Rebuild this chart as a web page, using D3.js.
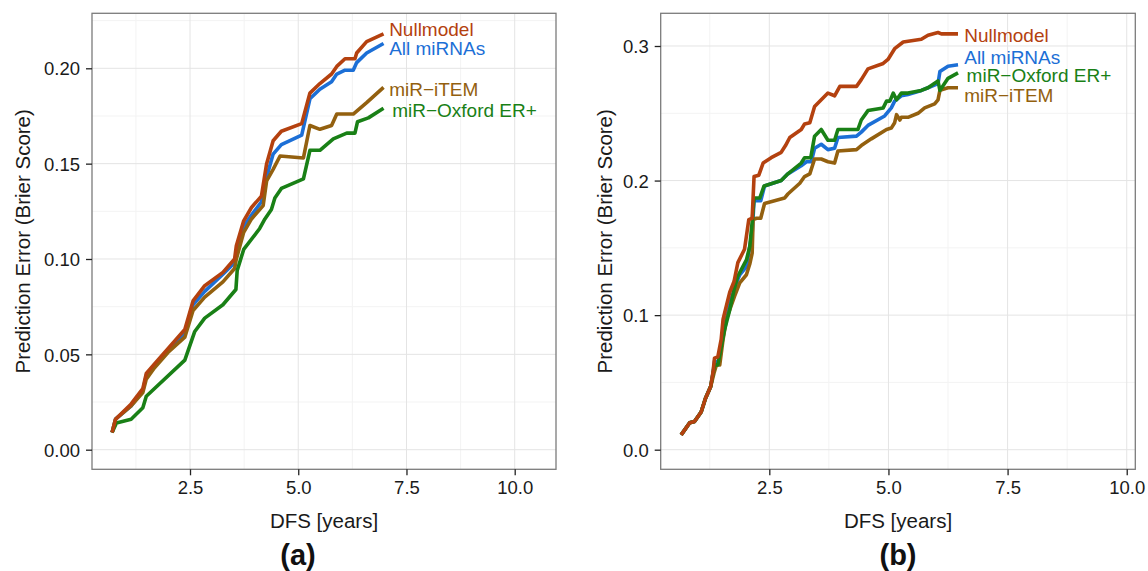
<!DOCTYPE html>
<html>
<head>
<meta charset="utf-8">
<script src="https://cdn.jsdelivr.net/npm/d3@7"></script>
<style>
  body { margin: 0; background: #fff; }
  text { font-family: "Liberation Sans", Arial, Helvetica, sans-serif; }
</style>
</head>
<body>
<script>
// Series, in drawing order
const seriesNames = ["All miRNAs", "miR\u2212iTEM", "miR\u2212Oxford ER+", "Nullmodel"];
const seriesColors = ["#1c6fd6", "#93600f", "#198016", "#b4410f"];

// Panel (a): [DFS years, prediction error]
const aAll = [[0.70,0.009],[0.78,0.016],[1.14,0.023],[1.41,0.031],[1.49,0.039],[1.68,0.044],[1.99,0.052],[2.38,0.061],[2.57,0.076],[2.84,0.083],[3.26,0.092],[3.53,0.098],[3.57,0.103],[3.74,0.117],[3.92,0.123],[4.15,0.130],[4.27,0.143],[4.42,0.155],[4.61,0.160],[5.08,0.165],[5.27,0.184],[5.50,0.189],[5.77,0.193],[5.89,0.197],[6.08,0.199],[6.27,0.199],[6.35,0.203],[6.58,0.208],[6.97,0.213]];
const aItem = [[0.70,0.009],[0.78,0.016],[1.14,0.023],[1.41,0.030],[1.49,0.037],[1.68,0.043],[1.99,0.051],[2.38,0.059],[2.57,0.073],[2.84,0.080],[3.26,0.088],[3.53,0.095],[3.57,0.100],[3.74,0.114],[3.92,0.121],[4.19,0.128],[4.27,0.141],[4.42,0.147],[4.58,0.154],[5.12,0.153],[5.27,0.170],[5.50,0.168],[5.77,0.170],[5.89,0.176],[6.27,0.176],[6.58,0.182],[6.97,0.190]];
const aOxford = [[0.70,0.009],[0.80,0.014],[1.14,0.016],[1.41,0.022],[1.49,0.028],[2.38,0.047],[2.61,0.062],[2.84,0.069],[3.26,0.076],[3.56,0.084],[3.59,0.094],[3.74,0.105],[4.11,0.116],[4.23,0.121],[4.38,0.126],[4.46,0.132],[4.61,0.137],[5.12,0.142],[5.27,0.157],[5.50,0.157],[5.81,0.163],[6.12,0.166],[6.31,0.166],[6.37,0.172],[6.62,0.174],[6.97,0.179]];
const aNull = [[0.70,0.009],[0.78,0.016],[1.14,0.024],[1.41,0.032],[1.49,0.040],[1.68,0.045],[1.99,0.053],[2.38,0.063],[2.57,0.078],[2.84,0.086],[3.26,0.093],[3.53,0.100],[3.57,0.107],[3.74,0.120],[3.92,0.127],[4.15,0.133],[4.27,0.150],[4.42,0.162],[4.61,0.167],[5.08,0.171],[5.27,0.187],[5.50,0.192],[5.77,0.197],[5.89,0.201],[6.08,0.205],[6.31,0.205],[6.35,0.208],[6.58,0.214],[6.97,0.218]];

// Panel (b)
const bAll = [[0.65,0.011],[0.83,0.020],[0.93,0.021],[1.07,0.028],[1.16,0.038],[1.27,0.047],[1.32,0.057],[1.35,0.066],[1.42,0.064],[1.49,0.078],[1.56,0.092],[1.63,0.102],[1.70,0.112],[1.81,0.124],[1.88,0.130],[2.02,0.136],[2.09,0.151],[2.14,0.161],[2.18,0.185],[2.32,0.185],[2.40,0.196],[2.75,0.200],[2.89,0.205],[3.17,0.211],[3.28,0.214],[3.38,0.214],[3.45,0.224],[3.59,0.227],[3.73,0.223],[3.87,0.224],[3.94,0.232],[4.33,0.233],[4.43,0.236],[4.57,0.241],[4.92,0.248],[5.06,0.254],[5.13,0.259],[5.27,0.263],[5.41,0.264],[5.69,0.267],[5.83,0.269],[6.04,0.272],[6.08,0.281],[6.25,0.285],[6.46,0.286]];
const bItem = [[0.65,0.011],[0.83,0.020],[0.93,0.021],[1.07,0.028],[1.16,0.038],[1.27,0.047],[1.34,0.057],[1.39,0.063],[1.46,0.063],[1.53,0.082],[1.60,0.097],[1.67,0.104],[1.77,0.114],[1.88,0.124],[2.02,0.130],[2.09,0.138],[2.14,0.146],[2.16,0.171],[2.23,0.172],[2.32,0.172],[2.40,0.183],[2.82,0.187],[2.89,0.190],[3.14,0.198],[3.24,0.203],[3.35,0.205],[3.45,0.216],[3.59,0.216],[3.73,0.214],[3.87,0.213],[3.94,0.222],[4.33,0.223],[4.43,0.226],[4.64,0.231],[4.96,0.238],[5.06,0.239],[5.13,0.243],[5.17,0.249],[5.24,0.245],[5.27,0.247],[5.41,0.247],[5.62,0.250],[5.76,0.254],[5.97,0.257],[6.04,0.260],[6.08,0.267],[6.25,0.269],[6.46,0.269]];
const bOxford = [[0.65,0.011],[0.83,0.020],[0.93,0.021],[1.07,0.028],[1.16,0.038],[1.27,0.047],[1.32,0.057],[1.35,0.063],[1.42,0.063],[1.49,0.076],[1.56,0.089],[1.67,0.104],[1.76,0.119],[1.84,0.129],[2.02,0.141],[2.09,0.151],[2.14,0.169],[2.18,0.187],[2.30,0.187],[2.39,0.196],[2.75,0.200],[2.89,0.205],[3.17,0.213],[3.24,0.217],[3.37,0.217],[3.45,0.233],[3.59,0.238],[3.73,0.230],[3.87,0.230],[3.94,0.238],[4.36,0.238],[4.43,0.245],[4.57,0.252],[4.89,0.254],[4.96,0.259],[5.03,0.259],[5.10,0.265],[5.17,0.260],[5.27,0.265],[5.41,0.265],[5.69,0.267],[5.83,0.269],[6.04,0.274],[6.08,0.267],[6.25,0.276],[6.46,0.280]];
const bNull = [[0.65,0.011],[0.83,0.020],[0.93,0.021],[1.07,0.028],[1.16,0.038],[1.27,0.047],[1.32,0.058],[1.35,0.068],[1.42,0.069],[1.49,0.082],[1.53,0.097],[1.60,0.107],[1.67,0.117],[1.76,0.125],[1.84,0.139],[1.98,0.149],[2.07,0.171],[2.14,0.172],[2.18,0.203],[2.28,0.204],[2.37,0.213],[2.54,0.217],[2.75,0.221],[2.84,0.226],[2.93,0.232],[3.17,0.238],[3.24,0.242],[3.35,0.243],[3.45,0.255],[3.59,0.260],[3.73,0.265],[3.87,0.263],[3.98,0.270],[4.33,0.270],[4.43,0.275],[4.57,0.283],[4.89,0.287],[4.99,0.290],[5.13,0.298],[5.31,0.303],[5.69,0.305],[5.83,0.308],[6.04,0.310],[6.11,0.309],[6.46,0.309]];

// Direct labels (data units), same order as seriesNames
const aLabelX = [7.10, 7.10, 7.17, 7.10];
const aLabelY = [0.2107, 0.1892, 0.1781, 0.2206];
const bLabelX = [6.59, 6.59, 6.64, 6.59];
const bLabelY = [0.2920, 0.2637, 0.2780, 0.3080];

// Ticks
const xTicks = [2.5, 5.0, 7.5, 10.0];
const xMinor = [1.25, 3.75, 6.25, 8.75];
const aYTicks = [0.00, 0.05, 0.10, 0.15, 0.20];
const aYMinor = [0.025, 0.075, 0.125, 0.175, 0.225];
const bYTicks = [0.0, 0.1, 0.2, 0.3];
const bYMinor = [0.05, 0.15, 0.25];

const width = 1148, height = 571;

const svg = d3.select("body").append("svg")
    .attr("width", width)
    .attr("height", height);

function drawPanel(p) {
    const x = d3.scaleLinear().domain(p.xDomain).range([p.left, p.right]);
    const y = d3.scaleLinear().domain(p.yDomain).range([p.bottom, p.top]);
    const g = svg.append("g");

    // minor grid
    g.selectAll(".vminor").data(xMinor).join("line")
        .attr("x1", d => x(d)).attr("x2", d => x(d))
        .attr("y1", p.top).attr("y2", p.bottom)
        .attr("stroke", "#f3f3f3").attr("stroke-width", 1);
    g.selectAll(".hminor").data(p.yMinor).join("line")
        .attr("x1", p.left).attr("x2", p.right)
        .attr("y1", d => y(d)).attr("y2", d => y(d))
        .attr("stroke", "#f3f3f3").attr("stroke-width", 1);
    // major grid
    g.selectAll(".vmajor").data(xTicks).join("line")
        .attr("x1", d => x(d)).attr("x2", d => x(d))
        .attr("y1", p.top).attr("y2", p.bottom)
        .attr("stroke", "#e4e4e4").attr("stroke-width", 1);
    g.selectAll(".hmajor").data(p.yTicks).join("line")
        .attr("x1", p.left).attr("x2", p.right)
        .attr("y1", d => y(d)).attr("y2", d => y(d))
        .attr("stroke", "#e4e4e4").attr("stroke-width", 1);

    // lines
    const line = d3.line().x(d => x(d[0])).y(d => y(d[1]));
    p.series.forEach((s, i) => {
        g.append("path")
            .datum(s)
            .attr("d", line)
            .attr("fill", "none")
            .attr("stroke", seriesColors[i])
            .attr("stroke-width", 3.6)
            .attr("stroke-linejoin", "round");
    });

    // direct labels
    seriesNames.forEach((name, i) => {
        g.append("text")
            .attr("x", x(p.labelX[i]))
            .attr("y", y(p.labelY[i]))
            .attr("dy", "0.36em")
            .attr("font-size", "19px")
            .attr("fill", seriesColors[i])
            .text(name);
    });

    // panel border
    g.append("rect")
        .attr("x", p.left).attr("y", p.top)
        .attr("width", p.right - p.left).attr("height", p.bottom - p.top)
        .attr("fill", "none").attr("stroke", "#7b7b7b").attr("stroke-width", 1.3);

    // axes
    const xAxis = g.append("g")
        .attr("transform", `translate(0, ${p.bottom})`)
        .call(d3.axisBottom(x).tickValues(xTicks).tickFormat(d3.format(".1f")).tickSize(6).tickPadding(6));
    const yAxis = g.append("g")
        .attr("transform", `translate(${p.left}, 0)`)
        .call(d3.axisLeft(y).tickValues(p.yTicks).tickFormat(d3.format(p.yFormat)).tickSize(6).tickPadding(6));
    [xAxis, yAxis].forEach(ax => {
        ax.select(".domain").remove();
        ax.selectAll(".tick line").attr("stroke", "#222").attr("stroke-width", 1.3);
        ax.selectAll(".tick text").attr("fill", "#1a1a1a").attr("font-size", "18.5px")
            .attr("font-family", "\"Liberation Sans\", Arial, sans-serif");
    });
    yAxis.selectAll(".tick text").attr("dy", "0.36em");

    // axis titles
    g.append("text")
        .attr("x", (p.left + p.right) / 2).attr("y", 528)
        .attr("text-anchor", "middle").attr("font-size", "20.5px").attr("fill", "#1a1a1a")
        .text("DFS [years]");
    g.append("text")
        .attr("transform", `translate(${p.yTitleX}, ${(p.top + p.bottom) / 2}) rotate(-90)`)
        .attr("text-anchor", "middle").attr("font-size", "20.5px").attr("fill", "#1a1a1a")
        .text("Prediction Error (Brier Score)");

    // panel tag
    g.append("text")
        .attr("x", p.tagX).attr("y", 565)
        .attr("text-anchor", "middle").attr("font-size", "29px").attr("font-weight", "bold")
        .attr("fill", "#111")
        .text(p.tag);
}

drawPanel({
    left: 92, right: 556, top: 13.3, bottom: 469.3,
    xDomain: [0.236, 10.954], yDomain: [-0.01028, 0.22884],
    yTicks: aYTicks, yMinor: aYMinor, yFormat: ".2f",
    series: [aAll, aItem, aOxford, aNull],
    labelX: aLabelX, labelY: aLabelY,
    yTitleX: 29.5, tagX: 298, tag: "(a)"
});

drawPanel({
    left: 660.7, right: 1135.3, top: 13.3, bottom: 469.3,
    xDomain: [0.221, 10.180], yDomain: [-0.01457, 0.3243],
    yTicks: bYTicks, yMinor: bYMinor, yFormat: ".1f",
    series: [bAll, bItem, bOxford, bNull],
    labelX: bLabelX, labelY: bLabelY,
    yTitleX: 611.5, tagX: 898, tag: "(b)"
});
</script>
</body>
</html>
